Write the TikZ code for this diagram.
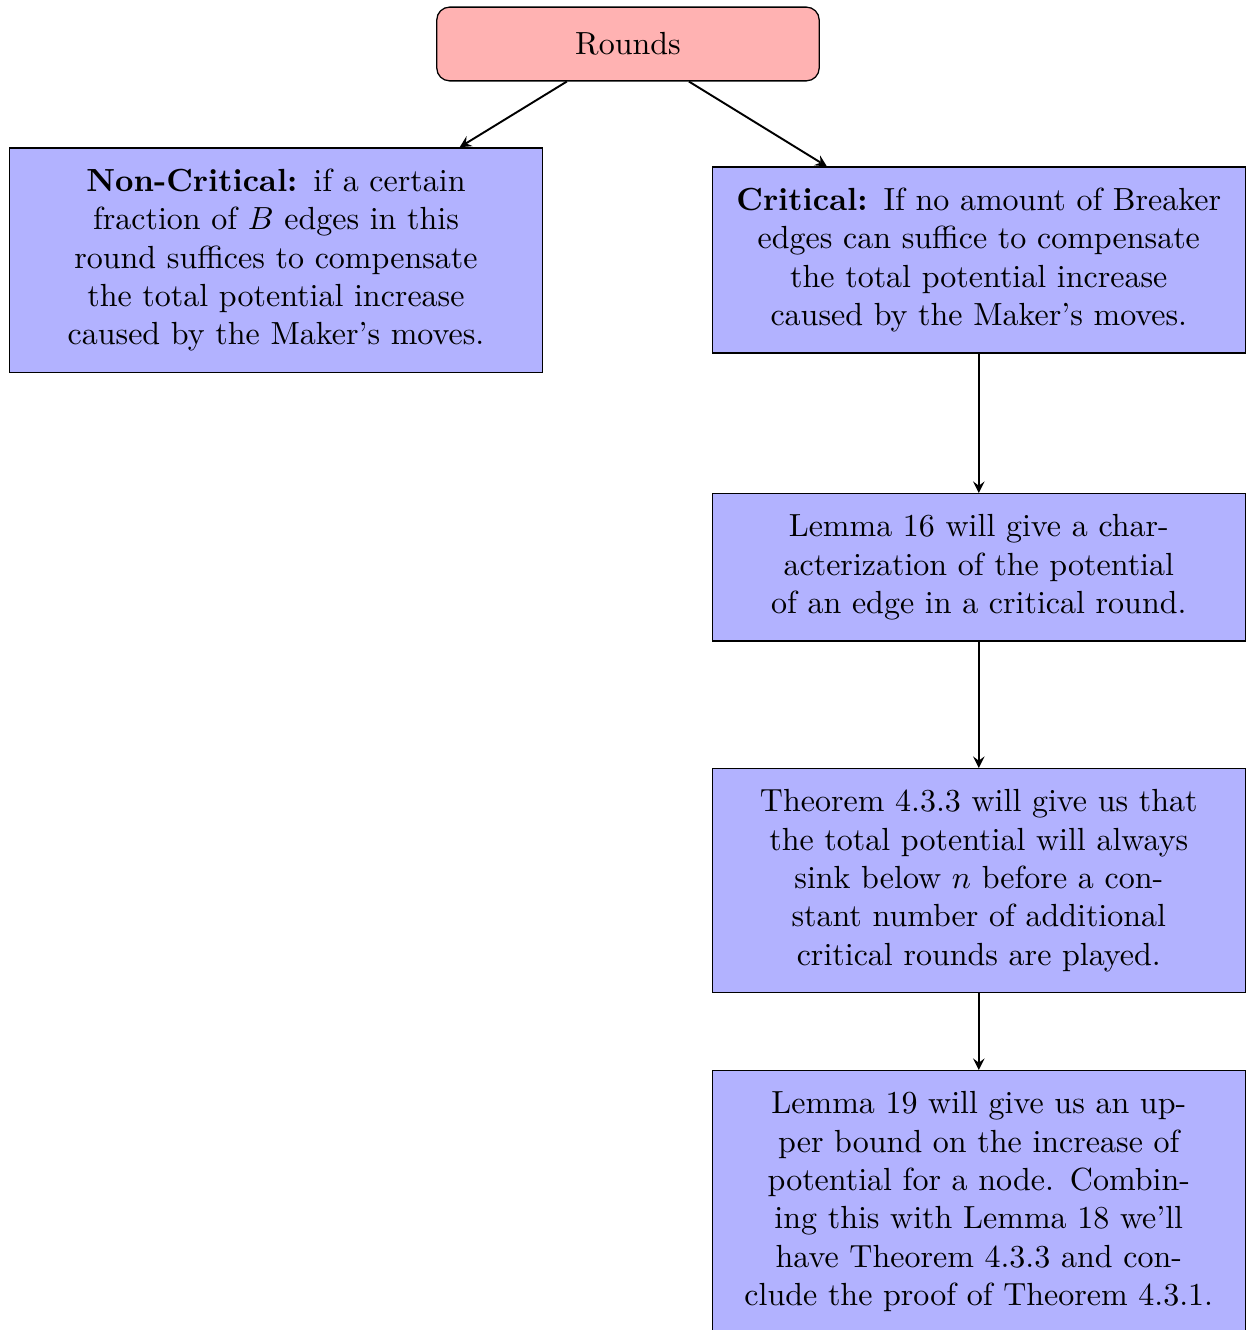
\documentclass[tikz,border=0pt]{standalone}
\usepackage{amsmath, amssymb}
\usepackage{tikz}
\tikzset{
    roundsbox/.style={rectangle, rounded corners, draw=black, fill=red!30,
        minimum width=4.2cm, minimum height=0.81cm},
    stepbox/.style={rectangle, draw=black, fill=blue!30,
        text width=5.4cm, align=center, inner sep=6.5pt}}

\begin{document}
\begin{tikzpicture}[>=stealth]

    \useasboundingbox (0,0) rectangle (13.674,-14.607);

    \node[roundsbox] (A) at (6.897,-0.483) {Rounds};
    \node[stepbox] (B) at (3.031,-2.856) {\textbf{Non-Critical:} if a certain\\ fraction of $B$ edges in this\\ round suffices to compensate\\ the total potential increase\\ caused by the Maker's moves.};
    \node[stepbox] (C) at (10.75,-2.856) {\textbf{Critical:} If no amount of Breaker\\ edges can suffice to compensate\\ the total potential increase\\ caused by the Maker's moves.};
    \node[stepbox, anchor=north] (D) at (10.75,-5.415) {Lemma 16 will give a char-\\ acterization of the potential\\ of an edge in a critical round.};
    \node[stepbox, anchor=north] (E) at (10.75,-8.435) {Theorem 4.3.3 will give us that\\ the total potential will always\\ sink below $n$ before a con-\\ stant number of additional\\ critical rounds are played.};
    \node[stepbox, anchor=north] (F) at (10.75,-11.752) {Lemma 19 will give us an up-\\ per bound on the increase of\\ potential for a node. Combin-\\ ing this with Lemma 18 we'll\\ have Theorem 4.3.3 and con-\\ clude the proof of Theorem 4.3.1.};

    \draw[->, semithick] (A) -- (B);
    \draw[->, semithick] (A) -- (C);
    \draw[->, semithick] (C) -- (D);
    \draw[->, semithick] (D) -- (E);
    \draw[->, semithick] (E) -- (F);

\end{tikzpicture}
\end{document}
